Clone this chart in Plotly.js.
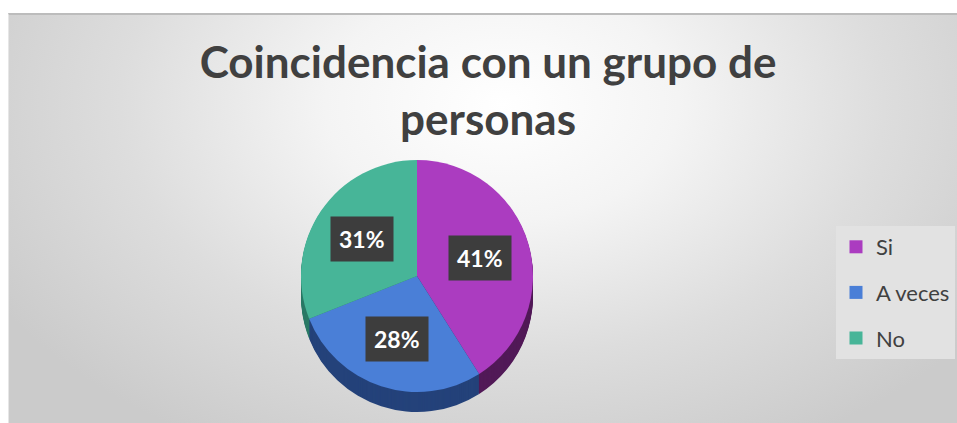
<!DOCTYPE html>
<html>
<head>
<meta charset="utf-8">
<script src="https://cdn.plot.ly/plotly-3.0.1.min.js"></script>
<style>
  html, body { margin: 0; padding: 0; background: #ffffff; width: 957px; height: 423px; overflow: hidden; }
  #bg { position: absolute; left: 8px; top: 13px; width: 949px; height: 410px;
        border-top: 2px solid #bcbcbc; border-left: 1px solid #e6e6e6; box-sizing: border-box;
        background: radial-gradient(ellipse 62% 95% at 52% 22%, #ffffff 0%, #f4f4f4 30%, #dddddd 65%, #cbcbcb 100%); }
  #chart { position: absolute; left: 0; top: 0; width: 957px; height: 423px; }
</style>
</head>
<body>
<div id="bg"></div>
<div id="chart"></div>
<script>
// ---- data ----
const labels = ["Si", "A veces", "No"];
const values = [41, 28, 31];
const topColors = ["#ab3cc0", "#4a7fd7", "#47b598"];
const sideColors = ["#521a58", "#24427a", "#2b7a66"];
const titleText = "Coincidencia con un grupo de<br>personas";

// ---- layout constants (pixels) ----
const W = 957, H = 423;
const CX = 417, CY = 276, R = 116, DEPTH = 20;

function domainFor(offsetPx) {
  const cyb = H - (CY + offsetPx);
  return { x: [(CX - R) / W, (CX + R) / W], y: [(cyb - R) / H, (cyb + R) / H] };
}

const traces = [];
// side (depth) layers, drawn first so they sit behind the top face
for (let d = DEPTH; d >= 1; d -= 1) {
  traces.push({
    type: "pie", labels: labels, values: values, sort: false, direction: "clockwise",
    rotation: 0, domain: domainFor(d), textinfo: "none", hoverinfo: "skip",
    showlegend: false, marker: { colors: sideColors, line: { width: 0 } }
  });
}
// top face
traces.push({
  type: "pie", labels: labels, values: values, sort: false, direction: "clockwise",
  rotation: 0, domain: domainFor(0), textinfo: "none", hoverinfo: "label+percent",
  showlegend: false, marker: { colors: topColors, line: { width: 0 } }
});
// legend entries
labels.forEach((lab, i) => {
  traces.push({
    type: "scatter", mode: "markers", x: [null], y: [null], name: lab,
    legendgroup: "g" + i, marker: { symbol: "square", size: 13, color: topColors[i] },
    hoverinfo: "skip"
  });
});

// percentage labels from the data
const total = values.reduce((a, b) => a + b, 0);
let cum = 0;
const annotations = values.map((v) => {
  const mid = (cum + v / 2) / total * 2 * Math.PI;
  cum += v;
  const k = 0.57;
  return {
    xref: "paper", yref: "paper",
    x: (CX + k * R * Math.sin(mid)) / W,
    y: (H - CY + k * R * Math.cos(mid)) / H,
    text: Math.round(v / total * 100) + "%",
    showarrow: false,
    font: { family: "Lato, 'Open Sans', sans-serif", size: 23, color: "#ffffff", weight: "bold" },
    bgcolor: "#3d3d3d", borderpad: 8, xanchor: "center", yanchor: "middle"
  };
});

const layout = {
  width: W, height: H,
  margin: { l: 0, r: 0, t: 0, b: 0, autoexpand: false },
  paper_bgcolor: "rgba(0,0,0,0)", plot_bgcolor: "rgba(0,0,0,0)",
  title: {
    text: titleText, x: 0.51, xanchor: "center", xref: "container",
    y: 1 - 78 / H, yanchor: "top", yref: "container",
    font: { family: "Lato, 'Open Sans', sans-serif", size: 44, color: "#404040", weight: "bold" }
  },
  xaxis: { visible: false }, yaxis: { visible: false },
  showlegend: true,
  legend: {
    xref: "container", yref: "container", x: 836 / W, y: 1 - 226 / H,
    xanchor: "left", yanchor: "top", bgcolor: "#e2e2e2",
    font: { family: "Lato, 'Open Sans', sans-serif", size: 22, color: "#404040" },
    traceorder: "grouped", tracegroupgap: 14, itemsizing: "trace"
  },
  annotations: annotations
};

Plotly.newPlot("chart", traces, layout, { staticPlot: true, displayModeBar: false });
</script>
</body>
</html>
